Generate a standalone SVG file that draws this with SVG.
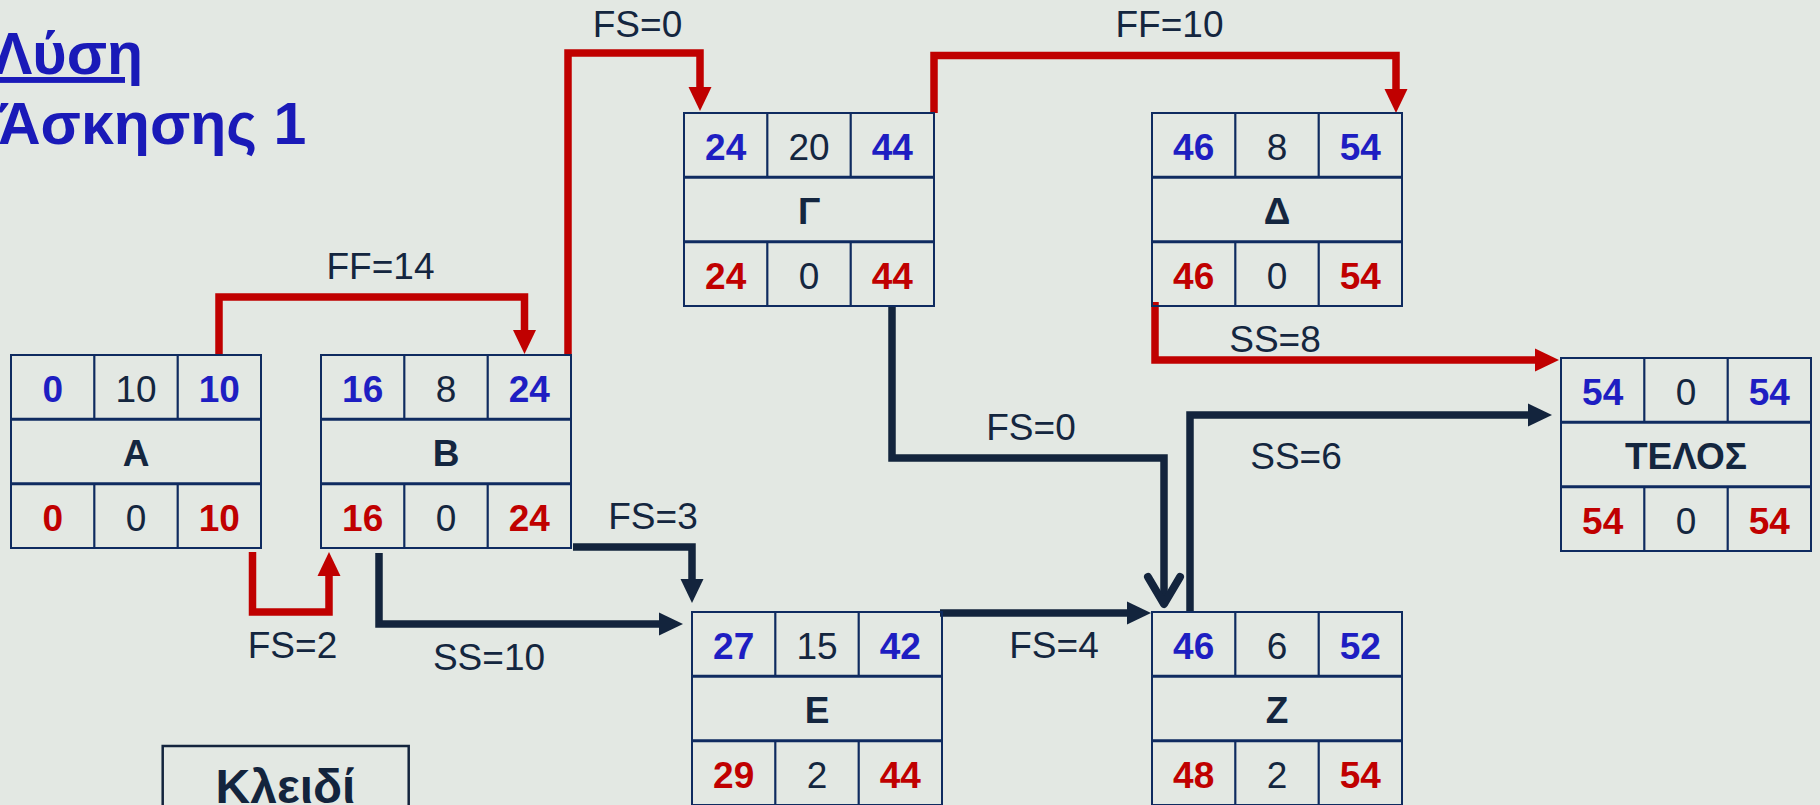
<svg xmlns="http://www.w3.org/2000/svg" xmlns:xlink="http://www.w3.org/1999/xlink" width="1820" height="805" viewBox="0 0 1820 805">
  <style>
    .bg { fill: #e3e8e3; }
    .title { font-family: "Liberation Sans", Arial, sans-serif; font-weight: bold; font-size: 59px; fill: #1a1ab8; }
    .frame rect { fill: none; stroke: #0f2b60; stroke-width: 2; }
    .frame .col { stroke: #0f2b60; stroke-width: 2.2; }
    .frame .row { stroke: #0f2b60; stroke-width: 3; }
    .node text { font-family: "Liberation Sans", Arial, sans-serif; font-size: 37px; text-anchor: middle; }
    .es { font-weight: bold; fill: #1e1ec2; }
    .ls { font-weight: bold; fill: #c00000; }
    .mid { fill: #14263f; }
    .name { font-weight: bold; fill: #14263f; }
    .red { fill: none; stroke: #c00000; stroke-width: 7.5; stroke-linejoin: miter; }
    .dark { fill: none; stroke: #13243d; stroke-width: 7.5; stroke-linejoin: miter; }
    .lbl { font-family: "Liberation Sans", Arial, sans-serif; font-size: 37px; fill: #14263f; text-anchor: middle; }
    .keybox { fill: none; stroke: #13243d; stroke-width: 2.5; }
    .keytxt { font-family: "Liberation Sans", Arial, sans-serif; font-weight: bold; font-size: 48px; fill: #13243d; text-anchor: middle; }
  </style>
  <defs>
    <!-- activity box: ES | D | EF / name / LS | TF | LF -->
    <g id="frame" class="frame">
      <rect x="0" y="0" width="250" height="193"/>
      <line class="row" x1="0" y1="64.3" x2="250" y2="64.3"/>
      <line class="row" x1="0" y1="128.7" x2="250" y2="128.7"/>
      <line class="col" x1="83.3" y1="0" x2="83.3" y2="64.3"/>
      <line class="col" x1="166.7" y1="0" x2="166.7" y2="64.3"/>
      <line class="col" x1="83.3" y1="128.7" x2="83.3" y2="193"/>
      <line class="col" x1="166.7" y1="128.7" x2="166.7" y2="193"/>
    </g>
    <marker id="arrRed" markerUnits="userSpaceOnUse" markerWidth="24" markerHeight="23" viewBox="0 0 24 23" refX="0" refY="11.5" orient="auto" overflow="visible">
      <path d="M0,0 L24,11.5 L0,23 Z" fill="#c00000"/>
    </marker>
    <marker id="arrDark" markerUnits="userSpaceOnUse" markerWidth="24" markerHeight="23" viewBox="0 0 24 23" refX="0" refY="11.5" orient="auto" overflow="visible">
      <path d="M0,0 L24,11.5 L0,23 Z" fill="#13243d"/>
    </marker>
    <marker id="chevDark" markerUnits="userSpaceOnUse" markerWidth="50" markerHeight="50" viewBox="-40 -25 50 50" refX="0" refY="0" orient="auto" overflow="visible">
      <path d="M-27,-16 L0,0 L-27,16" fill="none" stroke="#13243d" stroke-width="8" stroke-linecap="round" stroke-linejoin="round"/>
    </marker>
  </defs>

  <rect class="bg" x="0" y="0" width="1820" height="805"/>

  <g id="title">
    <text class="title" x="-7" y="74" text-decoration="underline">Λύση</text>
    <text class="title" x="-2" y="144">Άσκησης 1</text>
  </g>

  <g id="connectors">
    <!-- red: critical links -->
    <path class="red" d="M219,355 V297 H524.5 V330" marker-end="url(#arrRed)"/>
    <path class="red" d="M252.5,552 V612 H329 V576" marker-end="url(#arrRed)"/>
    <path class="red" d="M568,356 V53 H700 V87" marker-end="url(#arrRed)"/>
    <path class="red" d="M934,113 V55.5 H1396 V89" marker-end="url(#arrRed)"/>
    <path class="red" d="M1155,302 V360 H1535" marker-end="url(#arrRed)"/>
    <!-- dark: non-critical links -->
    <path class="dark" d="M379,553 V624 H659" marker-end="url(#arrDark)"/>
    <path class="dark" d="M573,547 H692 V579" marker-end="url(#arrDark)"/>
    <path class="dark" d="M892,306 V458 H1164 V604" marker-end="url(#chevDark)"/>
    <path class="dark" d="M1190,612 V415 H1528" marker-end="url(#arrDark)"/>
    <path class="dark" d="M940,613 H1127" marker-end="url(#arrDark)"/>
    <!-- lag labels -->
    <text class="lbl" x="380.5" y="279">FF=14</text>
    <text class="lbl" x="292.5" y="658">FS=2</text>
    <text class="lbl" x="489" y="670">SS=10</text>
    <text class="lbl" x="653" y="529">FS=3</text>
    <text class="lbl" x="637.5" y="37">FS=0</text>
    <text class="lbl" x="1169.5" y="37">FF=10</text>
    <text class="lbl" x="1275" y="352">SS=8</text>
    <text class="lbl" x="1031" y="440">FS=0</text>
    <text class="lbl" x="1296" y="469">SS=6</text>
    <text class="lbl" x="1054" y="658">FS=4</text>
  </g>

  <g id="node-A" class="node" transform="translate(11,355)">
    <use href="#frame"/>
    <text class="es" x="41.7" y="47">0</text><text class="mid" x="125" y="47">10</text><text class="es" x="208.3" y="47">10</text>
    <text class="name" x="125" y="111">A</text>
    <text class="ls" x="41.7" y="175.5">0</text><text class="mid" x="125" y="175.5">0</text><text class="ls" x="208.3" y="175.5">10</text>
  </g>

  <g id="node-B" class="node" transform="translate(321,355)">
    <use href="#frame"/>
    <text class="es" x="41.7" y="47">16</text><text class="mid" x="125" y="47">8</text><text class="es" x="208.3" y="47">24</text>
    <text class="name" x="125" y="111">B</text>
    <text class="ls" x="41.7" y="175.5">16</text><text class="mid" x="125" y="175.5">0</text><text class="ls" x="208.3" y="175.5">24</text>
  </g>

  <g id="node-G" class="node" transform="translate(684,113)">
    <use href="#frame"/>
    <text class="es" x="41.7" y="47">24</text><text class="mid" x="125" y="47">20</text><text class="es" x="208.3" y="47">44</text>
    <text class="name" x="125" y="111">Γ</text>
    <text class="ls" x="41.7" y="175.5">24</text><text class="mid" x="125" y="175.5">0</text><text class="ls" x="208.3" y="175.5">44</text>
  </g>

  <g id="node-D" class="node" transform="translate(1152,113)">
    <use href="#frame"/>
    <text class="es" x="41.7" y="47">46</text><text class="mid" x="125" y="47">8</text><text class="es" x="208.3" y="47">54</text>
    <text class="name" x="125" y="111">Δ</text>
    <text class="ls" x="41.7" y="175.5">46</text><text class="mid" x="125" y="175.5">0</text><text class="ls" x="208.3" y="175.5">54</text>
  </g>

  <g id="node-END" class="node" transform="translate(1561,358)">
    <use href="#frame"/>
    <text class="es" x="41.7" y="47">54</text><text class="mid" x="125" y="47">0</text><text class="es" x="208.3" y="47">54</text>
    <text class="name" x="125" y="111">ΤΕΛΟΣ</text>
    <text class="ls" x="41.7" y="175.5">54</text><text class="mid" x="125" y="175.5">0</text><text class="ls" x="208.3" y="175.5">54</text>
  </g>

  <g id="node-E" class="node" transform="translate(692,612)">
    <use href="#frame"/>
    <text class="es" x="41.7" y="47">27</text><text class="mid" x="125" y="47">15</text><text class="es" x="208.3" y="47">42</text>
    <text class="name" x="125" y="111">E</text>
    <text class="ls" x="41.7" y="175.5">29</text><text class="mid" x="125" y="175.5">2</text><text class="ls" x="208.3" y="175.5">44</text>
  </g>

  <g id="node-Z" class="node" transform="translate(1152,612)">
    <use href="#frame"/>
    <text class="es" x="41.7" y="47">46</text><text class="mid" x="125" y="47">6</text><text class="es" x="208.3" y="47">52</text>
    <text class="name" x="125" y="111">Z</text>
    <text class="ls" x="41.7" y="175.5">48</text><text class="mid" x="125" y="175.5">2</text><text class="ls" x="208.3" y="175.5">54</text>
  </g>

  <g id="key">
    <rect class="keybox" x="162.7" y="746" width="246" height="90"/>
    <text class="keytxt" x="285.5" y="803">Κλειδί</text>
  </g>
</svg>
